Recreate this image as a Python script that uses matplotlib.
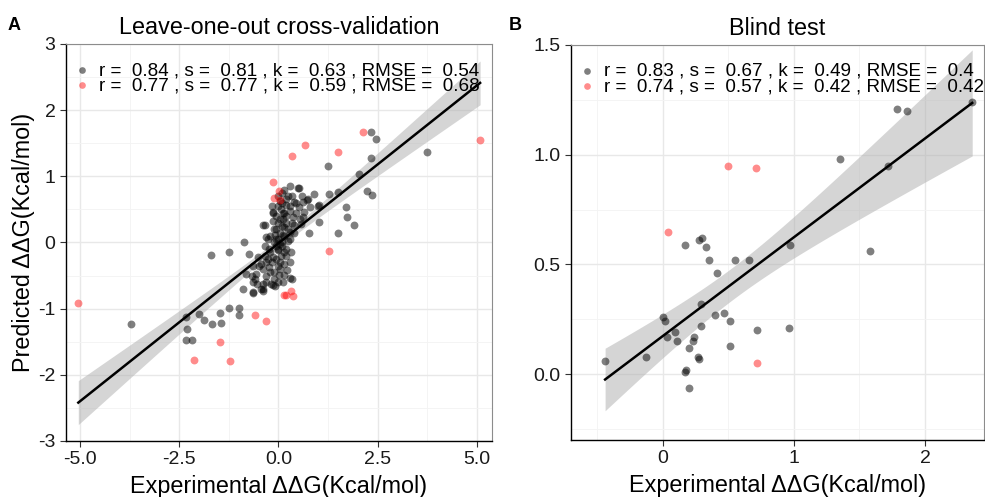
import numpy as np
import matplotlib
matplotlib.use("Agg")
from matplotlib import pyplot as plt
from matplotlib.ticker import MultipleLocator, FormatStrFormatter

plt.rcParams['font.family'] = ['Liberation Sans', 'DejaVu Sans']

# panel A: leave-one-out cross-validation
loo_black_x = [2.32, 2.45, 3.75, 2.34, 1.24, 2.03, 2.22, 2.36, 1.28, 1.50, 1.70, 1.73, 1.90, 1.49,
               -1.71, -1.24, -3.72, -2.32, -2.29, -2.34, -2.18, -1.99, -1.87, -1.68, -1.45, -1.48,
               -1.24, -1.00, -0.99, -0.89, -0.63, -0.65, -0.40, -0.43, -0.53, -0.67, -0.09, 0.34, 0.15,
               0.53, 0.50, 0.89, 0.72, 1.01, 0.78, 1.03, -0.87, -0.75,
               0.04, 0.19, 0.40, 0.61, 0.74, 0.80, 0.99, -0.14, 0.07, 0.28, 0.53, 0.65, -0.14, 0.11,
               0.36, 0.61, -0.35, -0.10, 0.15, 0.40, 0.57, -0.31, -0.06, 0.11, 0.28, 0.03, 0.23,
               -0.23, -0.02, 0.19, -0.52, -0.35, -0.14, 0.07, 0.32, -0.65, -0.44, -0.23, -0.02, 0.15,
               -0.81, -0.56, -0.31, 0.01, 0.28, -0.65, -0.40, -0.14, 0.11, -0.40,
               0.00, 0.05, 0.10, -0.05, 0.20, 0.15, -0.20, 0.00, 0.25, 0.35, 0.10, -0.15, 0.45,
               0.05, -0.10, 0.20, -0.30, 0.30, -0.05, 0.20, -0.38, -0.13,
               -0.05, 0.00, 0.05, 0.10, -0.10, 0.15, 0.20, -0.20, -0.25, 0.00, 0.10, 0.30, 0.25, 0.35,
               -0.15, -0.05, 0.05, -0.20, -0.30, -0.10, 0.00, 0.15, 0.30, -0.40, -0.50, -0.60, 0.40,
               0.45, 0.55, 0.60, -0.02, 0.15, 0.30, -0.25, -0.35, 0.08, 0.12, -0.08, 0.22, -0.18]
loo_black_y = [1.67, 1.56, 1.37, 1.28, 1.15, 1.04, 0.78, 0.72, 0.73, 0.77, 0.54, 0.38, 0.26, 0.15,
               -0.19, -0.14, -1.23, -1.12, -1.30, -1.47, -1.47, -1.08, -1.17, -1.23, -1.22, -1.06,
               -0.99, -0.99, -1.10, -0.71, -0.77, -0.75, -0.70, -0.71, -0.62, -0.51, -0.66, -0.55, -0.49,
               0.82, 0.82, 0.73, 0.64, 0.56, 0.14, 0.31, 0.00, -0.17,
               0.62, 0.56, 0.61, 0.61, 0.65, 0.53, 0.55, 0.46, 0.51, 0.48, 0.53, 0.46, 0.33, 0.36,
               0.38, 0.38, 0.26, 0.21, 0.23, 0.26, 0.28, 0.08, 0.06, 0.11, 0.16, -0.02, 0.03,
               -0.10, -0.12, -0.10, -0.22, -0.20, -0.22, -0.20, -0.15, -0.35, -0.32, -0.37, -0.35, -0.32,
               -0.47, -0.47, -0.50, -0.49, -0.53, -0.60, -0.63, -0.65, -0.60, -0.74,
               0.05, 0.15, 0.00, -0.05, 0.30, 0.45, 0.10, 0.30, 0.70, 0.70, 0.75, 0.55, 0.45,
               -0.30, -0.45, -0.20, -0.30, 0.05, 0.40, 0.65, 0.27, 0.45,
               0.20, -0.10, 0.35, 0.25, 0.00, 0.10, 0.40, -0.15, -0.25, 0.55, 0.60, 0.55, 0.20, 0.30,
               -0.30, -0.25, -0.40, -0.45, -0.60, -0.55, -0.60, -0.15, -0.30, -0.40, -0.35, -0.55, 0.15,
               0.60, 0.35, 0.70, 0.70, 0.80, 0.85, 0.05, -0.05, -0.05, 0.45, 0.12, -0.42, -0.62]
loo_red_x = [2.14, 0.66, 0.33, 1.50, 5.08, -0.14, 0.01, -0.10, 0.03, 1.28,
             0.13, 0.18, 0.32, 0.36, -5.04, -0.58, -0.30, -1.48, -2.13, -1.22]
loo_red_y = [1.67, 1.47, 1.31, 1.36, 1.55, 0.91, 0.78, 0.67, 0.64, -0.13,
             -0.79, -0.80, -0.73, -0.81, -0.91, -1.09, -1.19, -1.51, -1.78, -1.79]

# panel B: blind test
blind_black_x = [-0.44, -0.13, 0.00, 0.02, 0.09, 0.03, 0.11, 0.17, 0.28, 0.30, 0.33, 0.35, 0.41,
                 0.29, 0.40, 0.47, 0.51, 0.29, 0.24, 0.23, 0.20, 0.27, 0.28, 0.18, 0.17, 0.20,
                 0.51, 0.55, 0.66, 0.72, 0.96, 0.97, 1.35, 1.58, 1.72, 1.79, 1.86, 2.36]
blind_black_y = [0.059, 0.079, 0.26, 0.24, 0.19, 0.17, 0.15, 0.59, 0.61, 0.62, 0.58, 0.52, 0.46,
                 0.32, 0.27, 0.28, 0.24, 0.22, 0.17, 0.15, 0.12, 0.079, 0.068, 0.02, 0.009, -0.062,
                 0.13, 0.52, 0.52, 0.20, 0.21, 0.59, 0.98, 0.56, 0.95, 1.21, 1.20, 1.24]
blind_red_x = [0.50, 0.71, 0.04, 0.72]
blind_red_y = [0.95, 0.94, 0.65, 0.049]

loo_stats = [("0.84", "0.81", "0.63", "0.54"), ("0.77", "0.77", "0.59", "0.68")]
blind_stats = [("0.83", "0.67", "0.49", "0.4"), ("0.74", "0.57", "0.42", "0.42")]


def lm_band(x, y, n_pts=100):
	# least squares line and its 95% band, the way geom_smooth(method='lm') does it
	x = np.asarray(x, float)
	y = np.asarray(y, float)
	n = len(x)
	b, a = np.polyfit(x, y, 1)
	resid = y - (a + b * x)
	sigma = np.sqrt(np.sum(resid ** 2) / (n - 2))
	sxx = np.sum((x - x.mean()) ** 2)
	xs = np.linspace(x.min(), x.max(), n_pts)
	ys = a + b * xs
	se = sigma * np.sqrt(1.0 / n + (xs - x.mean()) ** 2 / sxx)
	return xs, ys, 1.97 * se


def style_axes(ax):
	ax.grid(which='major', color='#e8e8e8', lw=1.0, zorder=0)
	ax.grid(which='minor', color='#f3f3f3', lw=0.6, zorder=0)
	ax.set_axisbelow(True)
	for side in ['top', 'right']:
		ax.spines[side].set_color('#8c8c8c')
		ax.spines[side].set_linewidth(0.8)
	for side in ['left', 'bottom']:
		ax.spines[side].set_color('black')
		ax.spines[side].set_linewidth(1.0)
	ax.tick_params(which='major', direction='out', length=4, width=0.8, color='#333333',
				   labelsize=14, labelcolor='#1a1a1a', pad=3.5)
	ax.tick_params(which='minor', length=0)


def draw_panel(ax, bx, by, rx, ry, stats, anchor):
	allx = list(bx) + list(rx)
	ally = list(by) + list(ry)
	xs, ys, ci = lm_band(allx, ally)
	ax.fill_between(xs, ys - ci, ys + ci, color='#b3b3b3', alpha=0.55, lw=0, zorder=2)
	h1 = ax.scatter(bx, by, s=32, color='black', alpha=0.5, lw=0, zorder=3)
	h2 = ax.scatter(rx, ry, s=32, color='red', alpha=0.45, lw=0, zorder=3)
	ax.plot(xs, ys, color='black', lw=1.8, zorder=4)
	labels = [f"r =  {r} , s =  {s} , k =  {k} , RMSE =  {e}" for r, s, k, e in stats]
	ax.legend([h1, h2], labels, loc='upper left', bbox_to_anchor=anchor, frameon=False,
			  fontsize=13.6, handletextpad=0.5, borderaxespad=0, borderpad=0,
			  labelspacing=-0.1, handlelength=0.8, markerscale=0.85)


fig = plt.figure(figsize=(9.85, 4.97), dpi=100)

axA = fig.add_axes([0.067, 0.1127, 0.4325, 0.7988])
draw_panel(axA, loo_black_x, loo_black_y, loo_red_x, loo_red_y, loo_stats, (0.02, 0.955))
axA.set_xlim(-5.35, 5.38)
axA.set_ylim(-3, 3)
axA.xaxis.set_minor_locator(MultipleLocator(1.25))
axA.yaxis.set_minor_locator(MultipleLocator(0.5))
axA.set_xticks([-5, -2.5, 0, 2.5, 5])
axA.set_xticklabels(["-5.0", "-2.5", "0.0", "2.5", "5.0"])
axA.set_yticks([-3, -2, -1, 0, 1, 2, 3])
axA.set_yticklabels(["-3", "-2", "-1", "0", "1", "2", "3"])
style_axes(axA)
axA.set_title("Leave-one-out cross-validation", fontsize=16.8, pad=7)
axA.set_xlabel("Experimental ΔΔG(Kcal/mol)", fontsize=16.8, labelpad=5)
axA.set_ylabel("Predicted ΔΔG(Kcal/mol)", fontsize=16.8, labelpad=2)

axB = fig.add_axes([0.5797, 0.1147, 0.4193, 0.7948])
draw_panel(axB, blind_black_x, blind_black_y, blind_red_x, blind_red_y, blind_stats, (0.021, 0.955))
axB.set_xlim(-0.70, 2.45)
axB.set_ylim(-0.30, 1.50)
axB.xaxis.set_major_locator(MultipleLocator(1))
axB.xaxis.set_minor_locator(MultipleLocator(0.5))
axB.yaxis.set_major_locator(MultipleLocator(0.5))
axB.yaxis.set_minor_locator(MultipleLocator(0.25))
axB.yaxis.set_major_formatter(FormatStrFormatter('%.1f'))
style_axes(axB)
axB.set_title("Blind test", fontsize=16.8, pad=7)
axB.set_xlabel("Experimental ΔΔG(Kcal/mol)", fontsize=16.8, labelpad=5)

fig.text(0.008, 0.940, "A", fontsize=13, fontweight='bold', va='baseline')
fig.text(0.517, 0.940, "B", fontsize=13, fontweight='bold', va='baseline')

fig.savefig("out.png", dpi=100)
